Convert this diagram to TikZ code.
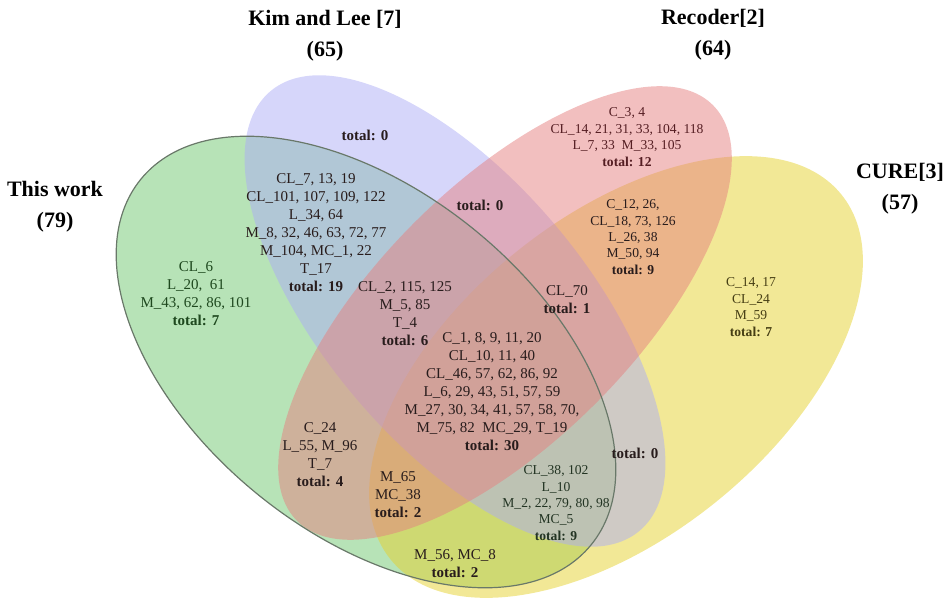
\documentclass[tikz,border=0pt]{standalone}
\usepackage{fontspec}
\setmainfont{Liberation Serif}
\definecolor{cg}{rgb}{0.44,0.78,0.44}
\definecolor{cb}{rgb}{0.68,0.68,0.96}
\definecolor{cp}{rgb}{0.90,0.50,0.50}
\definecolor{cy}{rgb}{0.90,0.82,0.18}
\definecolor{gline}{RGB}{105,120,105}
\definecolor{td}{RGB}{40,28,28}
\definecolor{tg}{RGB}{30,72,30}
\definecolor{tgg}{RGB}{35,52,35}
\definecolor{tp}{RGB}{85,30,35}
\definecolor{ty}{RGB}{70,62,20}
\tikzset{
  lbl/.style={align=center, inner sep=0pt, text=td, font=\fontsize{15}{18}\selectfont},
  lbls/.style={lbl, font=\fontsize{13.6}{16.4}\selectfont},
  ttl/.style={align=center, inner sep=0pt, text=black, font=\fontsize{22}{31}\selectfont\bfseries},
  venn/.style={fill opacity=0.5}
}
\begin{document}
\begin{tikzpicture}[x=1pt,y=-1pt]
\useasboundingbox (0,0) rectangle (950,599);
% sets
\fill[venn, cg, rotate around={-39:(366,362)}] (366,362) ellipse [x radius=290, y radius=171];
\fill[venn, cy, rotate around={39:(616,377)}] (616,377) ellipse [x radius=290, y radius=160];
\fill[venn, cb, rotate around={-50:(455,311)}] (455,311) ellipse [x radius=287, y radius=132];
\fill[venn, cp, rotate around={45:(505,313)}] (505,313) ellipse [x radius=294, y radius=128];
\draw[gline, line width=1.2pt, rotate around={-39:(366,362)}] (366,362) ellipse [x radius=290, y radius=171];
% titles
\node[ttl] (tthis) at (55,206.5) {This work\\(79)};
\node[ttl] (tkim) at (325,35.5) {Kim and Lee [7]\\(65)};
\node[ttl] (trec) at (713,35) {Recoder[2]\\(64)};
\node[ttl] (tcure) at (900,188.5) {CURE[3]\\(57)};
% region labels
\node[lbl] (bonly) at (365,135) {\textbf{total: 0}};
\node[lbl] (bp) at (480,205) {\textbf{total: 0}};
\node[lbls, text=tp] (ponly) at (627,137) {C\_3, 4\\CL\_14, 21, 31, 33, 104, 118\\L\_7, 33\ \ M\_33, 105\\\textbf{total: 12}};
\node[lbls] (py) at (633,237) {C\_12, 26,\\CL\_18, 73, 126\\L\_26, 38\\M\_50, 94\\\textbf{total: 9}};
\node[lbls, text=ty] (yonly) at (751,307) {C\_14, 17\\CL\_24\\M\_59\\\textbf{total: 7}};
\node[lbl, text=tg] (gonly) at (196,294) {CL\_6\\L\_20,\ \ 61\\M\_43, 62, 86, 101\\\textbf{total: 7}};
\node[lbl] (gb) at (316,233) {CL\_7, 13, 19\\CL\_101, 107, 109, 122\\L\_34, 64\\M\_8, 32, 46, 63, 72, 77\\M\_104, MC\_1, 22\\T\_17\\\textbf{total: 19}};
\node[lbl] (gbp) at (405,314) {CL\_2, 115, 125\\M\_5, 85\\T\_4\\\textbf{total: 6}};
\node[lbl] (bpy) at (567,300) {CL\_70\\\textbf{total: 1}};
\node[lbl] (all) at (492,392) {C\_1, 8, 9, 11, 20\\CL\_10, 11, 40\\CL\_46, 57, 62, 86, 92\\L\_6, 29, 43, 51, 57, 59\\M\_27, 30, 34, 41, 57, 58, 70,\\M\_75, 82\ \ MC\_29, T\_19\\\textbf{total: 30}};
\node[lbl] (gp) at (320,455) {C\_24\\L\_55, M\_96\\T\_7\\\textbf{total: 4}};
\node[lbl] (gpy) at (398,495) {M\_65\\MC\_38\\\textbf{total: 2}};
\node[lbls, text=tgg] (gby) at (556,503) {CL\_38, 102\\L\_10\\M\_2, 22, 79, 80, 98\\MC\_5\\\textbf{total: 9}};
\node[lbl] (by) at (635,453) {\textbf{total: 0}};
\node[lbl] (gy) at (455,564) {M\_56, MC\_8\\\textbf{total: 2}};
\end{tikzpicture}
\end{document}
